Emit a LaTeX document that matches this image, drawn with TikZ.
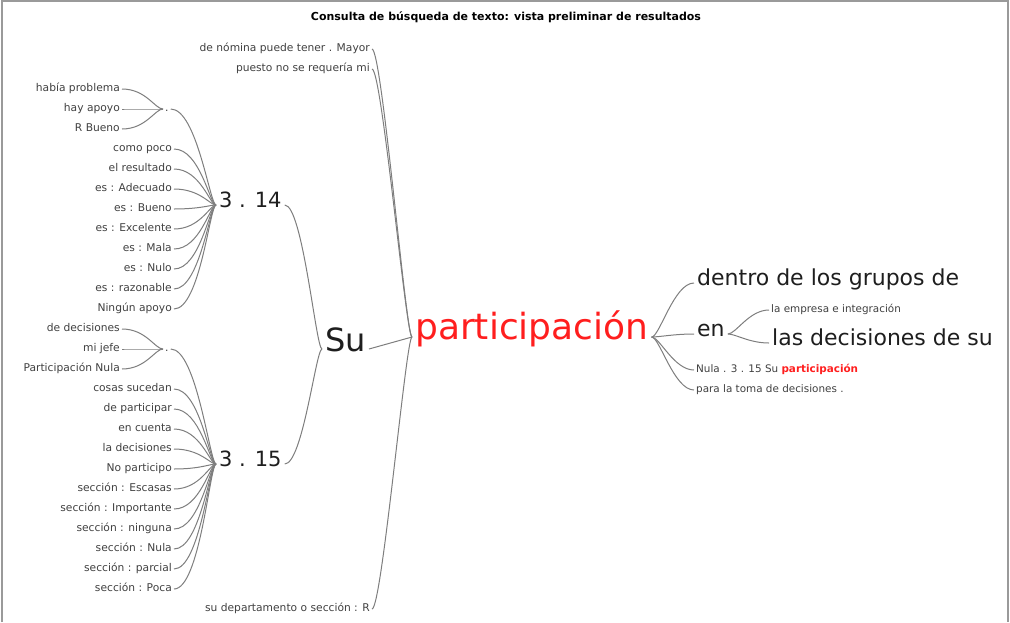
\documentclass[tikz,border=0pt]{standalone}
\usepackage{fontspec}
\setmainfont{DejaVu Sans}
\definecolor{leafgray}{HTML}{404040}
\definecolor{hubgray}{HTML}{1E1E1E}
\definecolor{linegray}{HTML}{7E7E7E}
\definecolor{framegray}{HTML}{9A9A9A}
\definecolor{keyred}{HTML}{FF1E1E}
\tikzset{
  leaf/.style={font=\fontsize{10.7}{12}\selectfont, text=leafgray, inner sep=2pt},
  smallleaf/.style={font=\fontsize{10.4}{12}\selectfont, text=leafgray, inner sep=2pt},
  hub/.style={font=\fontsize{21}{24}\selectfont, text=hubgray, inner sep=3pt},
  bighub/.style={hub, font=\fontsize{22}{26}\selectfont},
  branch/.style={draw=linegray, line width=1pt},
}
\begin{document}
\begin{tikzpicture}[x=1pt,y=-1pt]
\useasboundingbox (0,0) rectangle (1010,622);
% Frame and title
\draw[framegray, line width=1.2pt] (2,622) -- (2,1) -- (1008,1) -- (1008,622);
\node[font=\bfseries\fontsize{11}{13}\selectfont] (title) at (506,17) {Consulta de búsqueda de texto: vista preliminar de resultados};
% Central keyword
\node[hub, anchor=mid west, text=keyred, font=\fontsize{36}{40}\selectfont] (key) at (412,337) {participación};
\node[hub, anchor=mid west, font=\fontsize{32}{36}\selectfont] (su) at (322,349) {Su};
\node[hub, anchor=mid west] (n314) at (216,205) {3 . 14};
\node[hub, anchor=mid west] (n315) at (216,464) {3 . 15};
% Left leaves, far column
\node[leaf, anchor=mid east] (nomina) at (372,49) {de nómina puede tener . Mayor};
\node[leaf, anchor=mid east] (puesto) at (372,69) {puesto no se requería mi};
\node[leaf, anchor=mid east] (depto) at (372,609) {su departamento o sección : R};
% Left leaves of 3 . 14
\node[leaf, anchor=mid west] (dot1) at (163,109) {.};
\node[leaf, anchor=mid east] (habia) at (122,89) {había problema};
\node[leaf, anchor=mid east] (hayapoyo) at (122,109) {hay apoyo};
\node[leaf, anchor=mid east] (rbueno) at (122,129) {R Bueno};
\node[leaf, anchor=mid east] (como) at (174,149) {como poco};
\node[leaf, anchor=mid east] (resultado) at (174,169) {el resultado};
\node[leaf, anchor=mid east] (adecuado) at (174,189) {es : Adecuado};
\node[leaf, anchor=mid east] (bueno) at (174,209) {es : Bueno};
\node[leaf, anchor=mid east] (excelente) at (174,229) {es : Excelente};
\node[leaf, anchor=mid east] (mala) at (174,249) {es : Mala};
\node[leaf, anchor=mid east] (nulo) at (174,269) {es : Nulo};
\node[leaf, anchor=mid east] (razonable) at (174,289) {es : razonable};
\node[leaf, anchor=mid east] (ningun) at (174,309) {Ningún apoyo};
% Left leaves of 3 . 15
\node[leaf, anchor=mid west] (dot2) at (163,349) {.};
\node[leaf, anchor=mid east] (decisiones) at (122,329) {de decisiones};
\node[leaf, anchor=mid east] (jefe) at (122,349) {mi jefe};
\node[leaf, anchor=mid east] (partnula) at (122,369) {Participación Nula};
\node[leaf, anchor=mid east] (cosas) at (174,389) {cosas sucedan};
\node[leaf, anchor=mid east] (departicipar) at (174,409) {de participar};
\node[leaf, anchor=mid east] (cuenta) at (174,429) {en cuenta};
\node[leaf, anchor=mid east] (ladecisiones) at (174,449) {la decisiones};
\node[leaf, anchor=mid east] (noparticipo) at (174,469) {No participo};
\node[leaf, anchor=mid east] (escasas) at (174,489) {sección : Escasas};
\node[leaf, anchor=mid east] (importante) at (174,509) {sección : Importante};
\node[leaf, anchor=mid east] (ninguna) at (174,529) {sección : ninguna};
\node[leaf, anchor=mid east] (seccnula) at (174,549) {sección : Nula};
\node[leaf, anchor=mid east] (parcial) at (174,569) {sección : parcial};
\node[leaf, anchor=mid east] (poca) at (174,589) {sección : Poca};
% Right branches
\node[bighub, anchor=mid west] (dentro) at (694,283) {dentro de los grupos de};
\node[bighub, anchor=mid west] (en) at (694,334) {en};
\node[smallleaf, anchor=mid west] (empresa) at (769,310) {la empresa e integración};
\node[bighub, anchor=mid west] (lasdec) at (769,343) {las decisiones de su};
\node[smallleaf, anchor=mid west] (nula3) at (694,370) {Nula . 3 . 15 Su \textcolor{keyred}{\bfseries participación}};
\node[smallleaf, anchor=mid west] (toma) at (694,390) {para la toma de decisiones .};
% Connectors on the left
\foreach \c in {habia,hayapoyo,rbueno}
  \draw[branch] (\c.mid east) .. controls +(24,0) and +(-8,0) .. (dot1.mid west);
\foreach \c in {decisiones,jefe,partnula}
  \draw[branch] (\c.mid east) .. controls +(24,0) and +(-8,0) .. (dot2.mid west);
\foreach \c in {dot1,como,resultado,adecuado,bueno,excelente,mala,nulo,razonable,ningun}
  \draw[branch] (\c.mid east) .. controls +(26,0) and +(-6,0) .. (n314.mid west);
\foreach \c in {dot2,cosas,departicipar,cuenta,ladecisiones,noparticipo,escasas,importante,ninguna,seccnula,parcial,poca}
  \draw[branch] (\c.mid east) .. controls +(26,0) and +(-6,0) .. (n315.mid west);
\foreach \c in {n314,n315}
  \draw[branch] (\c.mid east) .. controls +(18,0) and +(-6,0) .. (su.mid west);
\foreach \c in {nomina,puesto,depto}
  \draw[branch] (\c.mid east) .. controls +(10,0) and +(-6,0) .. (key.mid west);
\draw[branch] (su.mid east) -- (key.mid west);
% Connectors on the right
\foreach \c in {dentro,en,nula3,toma}
  \draw[branch] (key.mid east) .. controls +(8,0) and +(-20,0) .. (\c.mid west);
\foreach \c in {empresa,lasdec}
  \draw[branch] (en.mid east) .. controls +(8,0) and +(-20,0) .. (\c.mid west);
\end{tikzpicture}
\end{document}
